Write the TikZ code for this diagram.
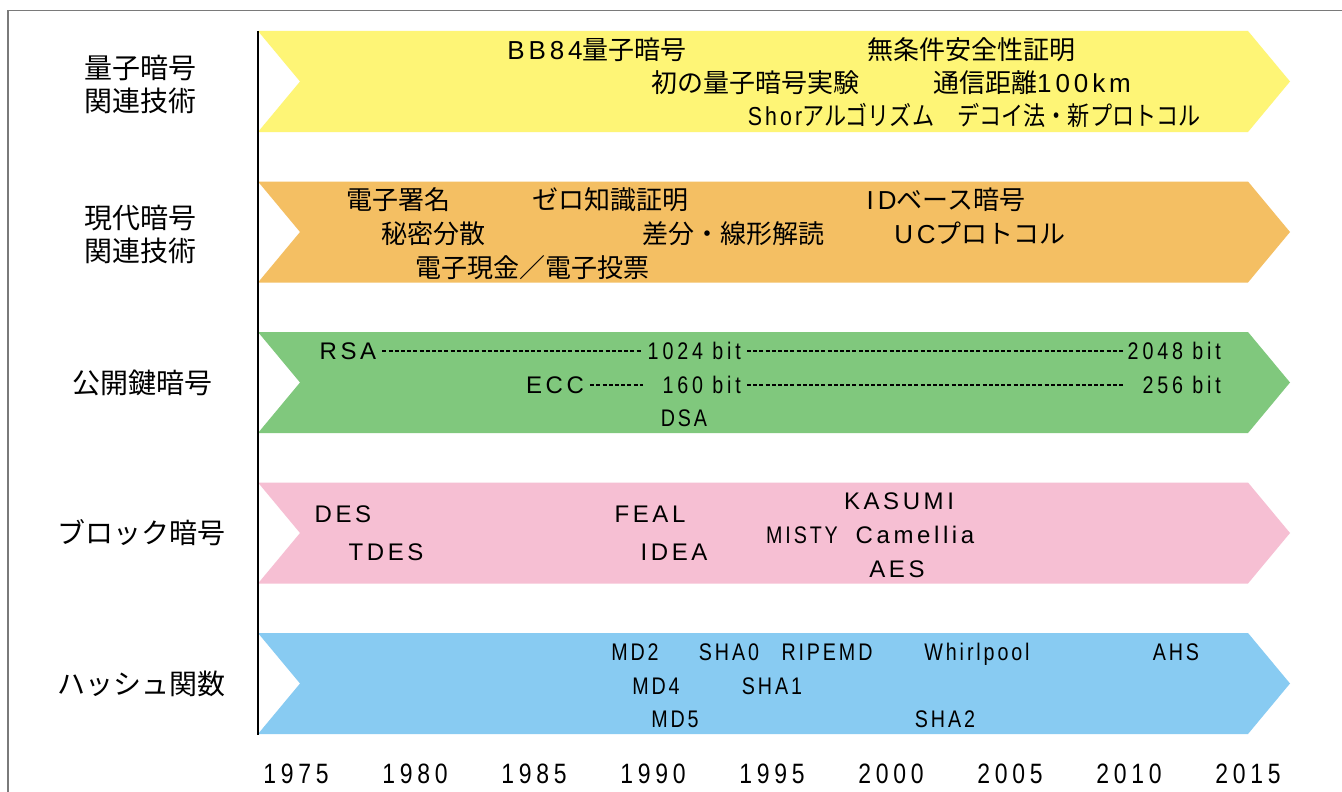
\documentclass[tikz,border=0pt]{standalone}
\usepackage{fontspec}
\setmainfont{Liberation Sans}
\newfontfamily\fjp{Noto Sans CJK JP}
\newfontfamily\fjpn{Noto Sans CJK JP}[FakeStretch=0.85]
\newfontfamily\flw{Liberation Sans}[LetterSpace=15]
\newfontfamily\fln{Liberation Sans}[FakeStretch=0.82,LetterSpace=12]
\newfontfamily\flb{Liberation Sans}[FakeStretch=0.82,LetterSpace=16]
\newfontfamily\fly{Liberation Sans}[FakeStretch=0.82,LetterSpace=17]
\definecolor{cyel}{HTML}{FEF576}
\definecolor{cora}{HTML}{F4BF63}
\definecolor{cgrn}{HTML}{80C87D}
\definecolor{cpnk}{HTML}{F6BFD3}
\definecolor{cblu}{HTML}{88CBF2}
\definecolor{cframe}{HTML}{7A7A7A}
\tikzset{
  jt/.style={font=\fjp\fontsize{26}{30}\selectfont, inner sep=0pt, text height=21.5pt, text depth=2pt},
  jn/.style={font=\fjpn\fontsize{26}{30}\selectfont, inner sep=0pt, text height=21.5pt, text depth=2pt},
  lt/.style={font=\flw\fontsize{24}{28}\selectfont, inner sep=0pt, text height=17pt, text depth=0pt},
  nt/.style={font=\fln\fontsize{24}{28}\selectfont, inner sep=0pt, text height=17pt, text depth=0pt},
  bt/.style={font=\flb\fontsize{24}{28}\selectfont, inner sep=0pt, text height=17pt, text depth=0pt},
  yt/.style={font=\fly\fontsize{28}{30}\selectfont, inner sep=0pt, text height=20pt, text depth=0pt},
  lab/.style={font=\fjp\fontsize{28}{33}\selectfont, align=center, inner sep=0pt},
  dsh/.style={line width=1.7pt, dash pattern=on 4pt off 2.2pt, shorten <=6pt, shorten >=5pt},
}
\begin{document}
\begin{tikzpicture}[x=1pt,y=-1pt]
\useasboundingbox (0,0) rectangle (1342,792);
\fill[white] (0,0) rectangle (1342,792);
% frame
\draw[cframe, line width=1.5pt] (8,800) -- (8,10.5) -- (1350,10.5);
% bands
\foreach \t/\c in {31/cyel, 181.5/cora, 332/cgrn, 482.5/cpnk, 633/cblu}{
  \fill[\c] (258,\t) -- (1248,\t) -- (1290,\t+50.5) -- (1248,\t+101) -- (258,\t+101) -- (300,\t+50.5) -- cycle;
}
\draw[line width=2.5pt] (258,31) -- (258,735);
% left labels
\node[lab] (l1) at (140,84) {量子暗号\\関連技術};
\node[lab] (l2) at (140,234) {現代暗号\\関連技術};
\node[lab] (l3) at (142,383) {公開鍵暗号};
\node[lab] (l4) at (141,533) {ブロック暗号};
\node[lab] (l5) at (141,684) {ハッシュ関数};
% quantum
\node[jt] (q1) at (597,50) {{\flw BB84}量子暗号};
\node[jt] (q2) at (971,50) {無条件安全性証明};
\node[jt] (q3) at (755,83) {初の量子暗号実験};
\node[jt] (q4) at (1032,83) {通信距離{\flw 100km}};
\node[jn] (q5) at (841,116) {{\fln Shor}アルゴリズム};
\node[jn] (q6) at (1079,116) {デコイ法・新プロトコル};
% modern
\node[jt] (m1) at (398,200) {電子署名};
\node[jt] (m2) at (610,200) {ゼロ知識証明};
\node[jt] (m3) at (946,200) {{\flw ID}ベース暗号};
\node[jt] (m4) at (433,234) {秘密分散};
\node[jt] (m5) at (733,234) {差分・線形解読};
\node[jt] (m6) at (980,234) {{\flw UC}プロトコル};
\node[jt] (m7) at (532,268) {電子現金／電子投票};
% public key
\node[lt] (rsa) at (348,351) {RSA};
\node[bt, anchor=east] (k1024) at (741,351) {1024 bit};
\node[bt, anchor=east] (k2048) at (1221,351) {2048 bit};
\node[lt] (ecc) at (555,385) {ECC};
\node[bt, anchor=east] (b160) at (741,385) {160 bit};
\node[bt, anchor=east] (b256) at (1221,385) {256 bit};
\node[nt] (dsa) at (684,418) {DSA};
\draw[dsh] (rsa.east) -- (k1024.west);
\draw[dsh] (k1024.east) -- (k2048.west);
\draw[dsh] (ecc.east) -- (k1024.west |- ecc.east);
\draw[dsh] (k1024.east |- b160.east) -- (k2048.west |- b160.east);
% block
\node[lt] (des) at (343,514) {DES};
\node[lt] (tdes) at (386,552) {TDES};
\node[lt] (feal) at (650,514) {FEAL};
\node[lt] (idea) at (674,552) {IDEA};
\node[lt] (kasumi) at (899,501) {KASUMI};
\node[nt] (misty) at (802,535) {MISTY};
\node[lt] (camellia) at (915,535) {Camellia};
\node[lt] (aes) at (897,569) {AES};
% hash
\node[nt] (md2) at (635,652) {MD2};
\node[nt] (sha0) at (729,652) {SHA0};
\node[nt] (ripemd) at (827,652) {RIPEMD};
\node[nt] (whirl) at (977,652) {Whirlpool};
\node[nt] (ahs) at (1176,652) {AHS};
\node[nt] (md4) at (656,686) {MD4};
\node[nt] (sha1) at (772,686) {SHA1};
\node[nt] (md5) at (675,719) {MD5};
\node[nt] (sha2) at (945,719) {SHA2};
% years
\foreach \yy [count=\k from 0] in {1975,1980,1985,1990,1995,2000,2005,2010,2015}{
  \node[yt] (y\yy) at (296+\k*119,773) {\yy};
}
\end{tikzpicture}
\end{document}
